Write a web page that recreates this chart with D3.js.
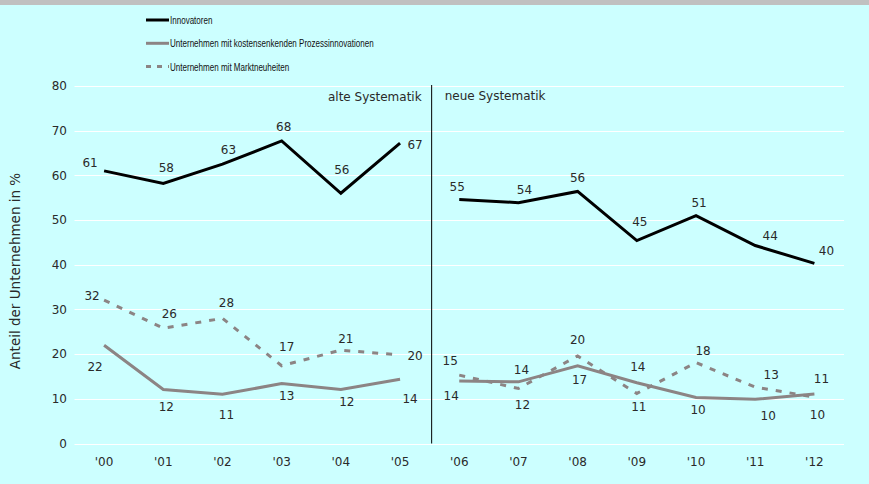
<html>
<meta charset="utf-8" />
<head>
<title>Innovatoren</title>
<style>
body { margin: 0; background: #ccffff; }
svg { display: block; }
svg text { font-family: "DejaVu Sans", Verdana, sans-serif; font-size: 12px; fill: #2a2a2a; }
.legend text { font-family: "Liberation Sans", Arial, sans-serif; font-size: 11px; fill: #111; }
</style>
<script src="https://d3js.org/d3.v7.min.js" charset="utf-8"></script>
</head>
<body>
<svg class="chart"></svg>
<script>
var chartWidth = 869;
var chartHeight = 484;

// data
var years = ["'00", "'01", "'02", "'03", "'04", "'05", "'06", "'07", "'08", "'09", "'10", "'11", "'12"];
var innovatoren = [61, 58.2, 62.5, 67.7, 56, 67.2, 54.6, 53.9, 56.4, 45.4, 51, 44.3, 40.3];
var prozess = [22, 12.1, 11, 13.4, 12.1, 14.4, 14, 13.8, 17.4, 13.6, 10.3, 9.9, 11.1];
var markt = [32.1, 25.8, 28, 17.4, 20.9, 19.8, 15.3, 12.3, 19.6, 11.2, 18.1, 12.6, 10.4];
var yTicks = [0, 10, 20, 30, 40, 50, 60, 70, 80];
var seriesNames = ["Innovatoren", "Unternehmen mit kostensenkenden Prozessinnovationen", "Unternehmen mit Marktneuheiten"];

// hand placed label offsets (dx, dy) like in the original
var offInno = [[-14,-8],[3,-16],[6,-14],[2,-14],[1,-23],[15,2],[-2,-13],[6,-13],[0,-14],[3,-19],[3,-13],[15,-10],[12,-13]];
var offProz = [[-9,22],[3,17],[4,20],[5,12],[6,12],[10,20],[-8,15],[3,-12],[2,14],[1,-16],[2,12],[13,17],[7,-15]];
var offMarkt = [[-12,-4],[6,-14],[4,-16],[5,-19],[5,-11],[15,1],[-9,-14],[4,16],[0,-16],[2,13],[7,-12],[16,-12],[3,18]];

var svg = d3.select(".chart")
  .attr("width", chartWidth)
  .attr("height", chartHeight);

svg.append("rect").attr("width", chartWidth).attr("height", chartHeight).attr("fill", "#ccffff");
svg.append("rect").attr("width", chartWidth).attr("height", 5).attr("fill", "#c0c0c0");

var x = d3.scalePoint().domain(years).range([74.5, 844]).padding(0.5);
var y = d3.scaleLinear().domain([0, 80]).range([443.5, 86]);

// grid
svg.append("g").selectAll("line")
  .data(yTicks)
  .enter().append("line")
  .attr("x1", 74.5).attr("x2", 844)
  .attr("y1", function(d){ return Math.round(y(d)) + 0.5; })
  .attr("y2", function(d){ return Math.round(y(d)) + 0.5; })
  .attr("stroke", "#ffffff").attr("stroke-width", 1);

// y labels
svg.append("g").selectAll("text")
  .data(yTicks)
  .enter().append("text")
  .attr("x", 67).attr("y", function(d){ return y(d); })
  .attr("dy", "0.35em").attr("text-anchor", "end")
  .text(function(d){ return d; });

// x labels
svg.append("g").selectAll("text")
  .data(years)
  .enter().append("text")
  .attr("x", function(d){ return x(d); }).attr("y", 462)
  .attr("dy", "0.35em").attr("text-anchor", "middle")
  .text(function(d){ return d; });

// y title
svg.append("text")
  .attr("transform", "translate(15,271) rotate(-90)")
  .attr("text-anchor", "middle")
  .attr("dy", "0.35em")
  .style("font-size", "13.5px")
  .text("Anteil der Unternehmen in %");

// divider
var divX = (x("'05") + x("'06")) / 2 + 2;
svg.append("line")
  .attr("x1", divX).attr("x2", divX)
  .attr("y1", y(80) - 1).attr("y2", y(0))
  .attr("stroke", "#000").attr("stroke-width", 1);

svg.append("text").attr("x", divX - 10).attr("y", 97).attr("dy", "0.35em")
  .attr("text-anchor", "end").text("alte Systematik");
svg.append("text").attr("x", divX + 13).attr("y", 96).attr("dy", "0.35em")
  .attr("text-anchor", "start").text("neue Systematik");

var fmt = d3.format(".0f");

function drawPart(values, color, width, dash) {
  var pts = values.map(function(v, i){ return [years[i], v]; });
  var parts = [pts.slice(0, 6), pts.slice(6)];
  var line = d3.line()
    .x(function(d){ return x(d[0]); })
    .y(function(d){ return y(d[1]); });
  parts.forEach(function(p) {
    svg.append("path").datum(p)
      .attr("d", line)
      .attr("fill", "none")
      .attr("stroke", color)
      .attr("stroke-width", width)
      .attr("stroke-dasharray", dash)
      .attr("stroke-linejoin", "miter");
  });
}

function drawLabels(values, offs) {
  svg.append("g").selectAll("text")
    .data(values)
    .enter().append("text")
    .attr("x", function(d, i){ return x(years[i]) + offs[i][0]; })
    .attr("y", function(d, i){ return y(d) + offs[i][1]; })
    .attr("dy", "0.35em").attr("text-anchor", "middle")
    .text(function(d){ return fmt(d); });
}

drawPart(markt, "#8c8484", 3, "6,8");
drawPart(prozess, "#8c8484", 3, null);
drawPart(innovatoren, "#000000", 3, null);

drawLabels(markt, offMarkt);
drawLabels(prozess, offProz);
drawLabels(innovatoren, offInno);

// legend
var legend = svg.append("g").attr("class", "legend");
var legStyles = [["#000", null], ["#8c8484", null], ["#8c8484", "5,6"]];
seriesNames.forEach(function(name, i) {
  var ly = 20 + i * 23.3;
  legend.append("line")
    .attr("x1", 146).attr("x2", 169)
    .attr("y1", ly).attr("y2", ly)
    .attr("stroke", legStyles[i][0]).attr("stroke-width", 3)
    .attr("stroke-dasharray", legStyles[i][1]);
  // the original legend font is a narrow one, squeeze it horizontally
  legend.append("text")
    .attr("transform", "translate(170," + ly + ") scale(0.70,1)")
    .attr("dy", "0.35em")
    .style("font-size", "11.5px")
    .text(name);
});
</script>
</body>
</html>
